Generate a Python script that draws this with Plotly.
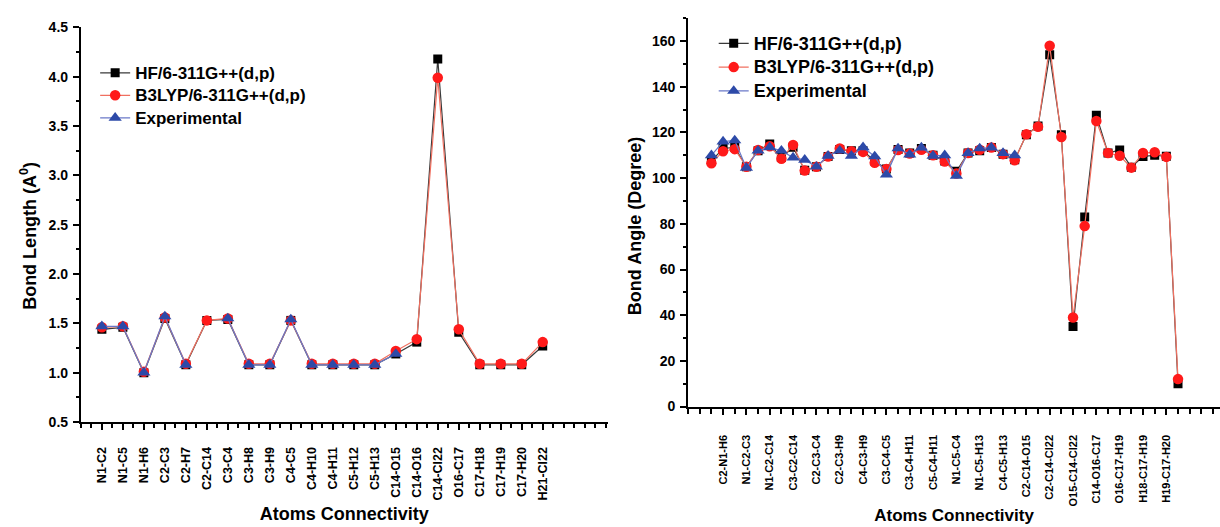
import plotly.graph_objects as go

# ---------------- Data: Bond length ----------------
bond_labels = ["N1-C2", "N1-C5", "N1-H6", "C2-C3", "C2-H7", "C2-C14", "C3-C4", "C3-H8",
               "C3-H9", "C4-C5", "C4-H10", "C4-H11", "C5-H12", "C5-H13", "C14-O15",
               "C14-O16", "C14-Cl22", "O16-C17", "C17-H18", "C17-H19", "C17-H20", "H21-Cl22"]
bond_hf = [1.44, 1.46, 1.00, 1.55, 1.08, 1.53, 1.54, 1.08, 1.08, 1.53, 1.08, 1.08, 1.08, 1.08,
           1.19, 1.31, 4.18, 1.41, 1.08, 1.08, 1.08, 1.27]
bond_b3lyp = [1.46, 1.47, 1.01, 1.56, 1.09, 1.53, 1.55, 1.09, 1.09, 1.53, 1.09, 1.09, 1.09, 1.09,
              1.22, 1.34, 3.99, 1.44, 1.09, 1.09, 1.09, 1.31]
bond_exp = [1.47, 1.47, 1.00, 1.57, 1.08, None, 1.55, 1.08, 1.08, 1.54, 1.08, 1.08, 1.08, 1.08,
            1.19, None, None, None, None, None, None, None]

# ---------------- Data: Bond angle ----------------
angle_hf = [107.5, 113, 113.5, 105, 112, 115, 109, 113.5, 103.5, 105, 109.5, 112.5, 112, 112,
            107.5, 104, 112.5, 111, 113, 110, 107.5, 103, 111, 112, 113.4, 110.5, 108,
            119, 122.8, 154, 119, 35, 83, 127.5, 111, 112.3, 104.8, 109.5, 110, 109.6, 10]
angle_b3lyp = [106.5, 111.8, 112.7, 105, 112.3, 114, 108.5, 114.5, 103.3, 105, 109.5, 113, 111.8,
               111.5, 106.7, 104, 112.3, 110.8, 112.4, 110, 107.3, 102, 111, 112.4, 113.4,
               110.5, 107.8, 119.2, 122.5, 158, 118, 39, 79, 125, 111, 109.8, 104.6, 111,
               111.3, 109.3, 12]
angle_exp = [110, 116, 116.5, 104.5, 112, 113.5, 112, 109, 108, 105, 109.8, 112, 109.8, 113.5,
             109.5, 101.5, 113, 110.3, 113.4, 109.8, 110, 101, 111, 113, 113.4, 111, 110]
angle_tick_labels = ["C2-N1-H6", "N1-C2-C3", "N1-C2-C14", "C3-C2-C14", "C2-C3-C4", "C2-C3-H9",
                     "C4-C3-H9", "C3-C4-C5", "C3-C4-H11", "C5-C4-H11", "N1-C5-C4", "N1-C5-H13",
                     "C4-C5-H13", "C2-C14-O15", "C2-C14-Cl22", "O15-C14-Cl22", "C14-O16-C17",
                     "O16-C17-H19", "H18-C17-H19", "H19-C17-H20"]

series_names = ["HF/6-311G++(d,p)", "B3LYP/6-311G++(d,p)", "Experimental"]

FONT = "Liberation Sans"
BLACK = "#000000"
RED = "#ff1a1a"
BLUE = "#2d4aa8"
line_cols = ["#3a3a3a", "#f07060", "#6a78c8"]
mk_cols = [BLACK, RED, BLUE]
symbols = ["square", "circle", "triangle-up"]
msizes = [9, 10.5, 11.5]

fig = go.Figure()

bx = list(range(len(bond_labels)))
for i, ys in enumerate([bond_hf, bond_b3lyp, bond_exp]):
    fig.add_trace(go.Scatter(
        x=bx, y=ys, mode="lines+markers",
        name='<span style="font-size:17px">' + series_names[i] + '</span>',
        line=dict(color=line_cols[i], width=1.2),
        marker=dict(symbol=symbols[i], size=msizes[i], color=mk_cols[i]),
        connectgaps=False, xaxis="x", yaxis="y", legend="legend"))

ax_ = list(range(len(angle_hf)))
for i, ys in enumerate([angle_hf, angle_b3lyp, angle_exp]):
    fig.add_trace(go.Scatter(
        x=ax_[:len(ys)], y=ys, mode="lines+markers",
        name='<span style="font-size:18px">' + series_names[i] + '</span>',
        line=dict(color=line_cols[i], width=1.2),
        marker=dict(symbol=symbols[i], size=msizes[i], color=mk_cols[i]),
        xaxis="x2", yaxis="y2", legend="legend2"))


def bfont(size):
    return dict(family=FONT, size=size, color="black", weight="bold")


common_axis = dict(showline=True, linecolor="black", linewidth=2, showgrid=False,
                   zeroline=False, ticks="outside", tickcolor="black", tickwidth=1.5,
                   mirror=False)

angle_tickvals = [2 * k + 1 for k in range(len(angle_tick_labels))]

fig.update_layout(
    width=1220, height=527,
    margin=dict(l=0, r=0, t=0, b=0),
    paper_bgcolor="white", plot_bgcolor="white",
    xaxis=dict(domain=[0.0663, 0.4982], range=[-1, 24.1], anchor="y",
               tickmode="array", tickvals=bx, ticktext=bond_labels, tickangle=-90,
               ticklen=6, ticklabelstandoff=12, tickfont=bfont(12.5),
               minor=dict(ticks="outside", dtick=0.5, tick0=0.5, ticklen=4, tickcolor="black"),
               title=dict(text="Atoms Connectivity", font=bfont(18), standoff=8),
               **common_axis),
    yaxis=dict(domain=[0.1898, 0.962], range=[0.5, 4.5], anchor="x",
               tickmode="linear", tick0=0.5, dtick=0.5, tickformat=".1f", ticklen=6,
               tickfont=bfont(14), ticklabelstandoff=2,
               minor=dict(ticks="outside", dtick=0.25, tick0=0.5, ticklen=3, tickcolor="black"),
               **common_axis),
    xaxis2=dict(domain=[0.564, 1.0], range=[-2, 43.6], anchor="y2",
                tickmode="array", tickvals=angle_tickvals, ticktext=angle_tick_labels,
                tickangle=-90, ticklen=6, ticklabelstandoff=16, tickfont=bfont(11),
                minor=dict(ticks="outside", dtick=1, tick0=0, ticklen=5, tickcolor="black"),
                title=dict(text="Atoms Connectivity", font=bfont(17), standoff=4),
                **common_axis),
    yaxis2=dict(domain=[0.2201, 0.9799], range=[0, 170], anchor="x2",
                tickmode="linear", tick0=0, dtick=20, ticklen=6,
                tickfont=bfont(14), ticklabelstandoff=2,
                minor=dict(ticks="outside", dtick=10, tick0=0, ticklen=3, tickcolor="black"),
                **common_axis),
    legend=dict(x=0.078, y=0.905, xanchor="left", yanchor="top",
                font=bfont(15), bgcolor="rgba(0,0,0,0)", tracegroupgap=0, itemwidth=30),
    legend2=dict(x=0.585, y=0.964, xanchor="left", yanchor="top",
                 font=bfont(16), bgcolor="rgba(0,0,0,0)", tracegroupgap=0, itemwidth=30),
    showlegend=True,
    annotations=[
        dict(text="Bond Length (A<sup>0</sup>)", xref="paper", yref="paper",
             x=29 / 1220, y=1 - 235 / 527, xanchor="center", yanchor="middle",
             textangle=-90, showarrow=False, font=bfont(18)),
        dict(text="Bond Angle (Degree)", xref="paper", yref="paper",
             x=635 / 1220, y=1 - 225 / 527, xanchor="center", yanchor="middle",
             textangle=-90, showarrow=False, font=bfont(18)),
    ],
)

fig.write_html("out.html")
